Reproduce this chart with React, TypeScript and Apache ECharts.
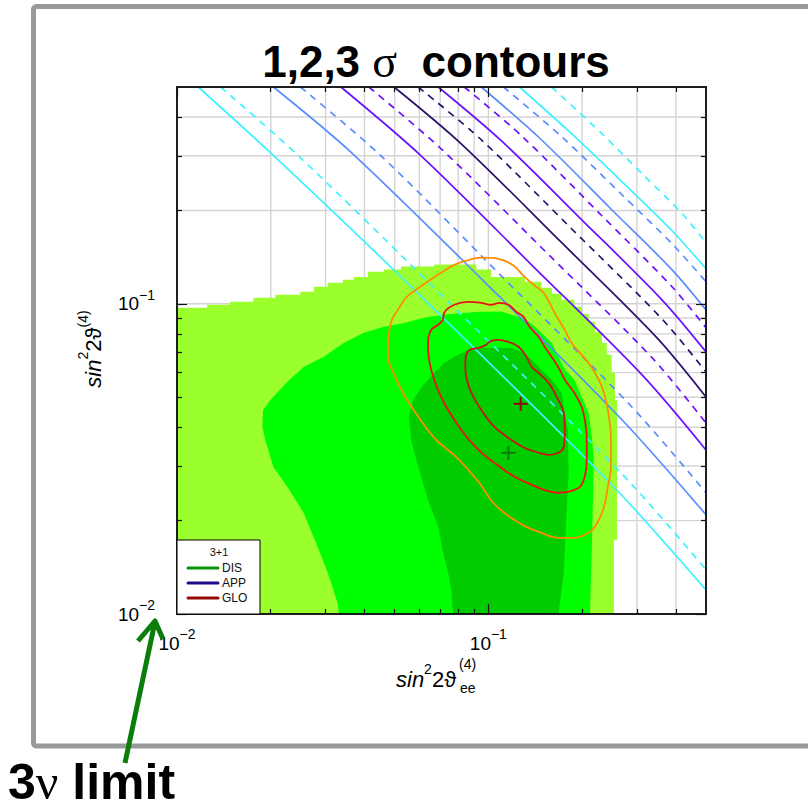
import React, { useEffect, useRef } from 'react';
import * as echarts from 'echarts';

const FONT = '"Liberation Sans", Arial, Helvetica, sans-serif';
const SERIF = '"Liberation Serif", "DejaVu Serif", serif';

// Axis range (both axes: sin²2θ, log scale)
const AXIS_MIN = 0.01;
const AXIS_MAX = 0.5;
const MAJOR_TICKS = [0.01, 0.1];
const MINOR_TICKS = [0.02, 0.03, 0.04, 0.05, 0.06, 0.07, 0.08, 0.09, 0.2, 0.3, 0.4];
const GRID_VALUES = [0.02, 0.03, 0.04, 0.05, 0.06, 0.07, 0.08, 0.09, 0.1, 0.2, 0.3, 0.4];

type Pt = [number, number];

// DIS allowed regions [sin²2θee, sin²2θ(4)] — 3σ region keeps the binned (stepped) outline
const DIS_3SIGMA: Pt[] = [
  [0.01, 0.01], [0.01, 0.0971], [0.0125, 0.0971], [0.0125, 0.0993], [0.0148, 0.0993],
  [0.0148, 0.1015], [0.0176, 0.1015], [0.0176, 0.1046], [0.0207, 0.1046], [0.0207, 0.1069],
  [0.0249, 0.1069], [0.0249, 0.1093], [0.0275, 0.1093], [0.0275, 0.1135], [0.0305, 0.1135],
  [0.0305, 0.117], [0.0341, 0.117], [0.0341, 0.1195], [0.037, 0.1195], [0.037, 0.122],
  [0.041, 0.122], [0.041, 0.1269], [0.0462, 0.1269], [0.0462, 0.129], [0.0524, 0.129],
  [0.0524, 0.132], [0.067, 0.132], [0.067, 0.134], [0.0915, 0.134], [0.0915, 0.129],
  [0.102, 0.129], [0.102, 0.122], [0.131, 0.122], [0.131, 0.1177], [0.148, 0.1177],
  [0.148, 0.1126], [0.16, 0.1126], [0.16, 0.1077], [0.172, 0.1077], [0.172, 0.103],
  [0.189, 0.103], [0.189, 0.0978], [0.1995, 0.0978], [0.1995, 0.0928], [0.21, 0.0928],
  [0.21, 0.0875], [0.22, 0.0875], [0.22, 0.0812], [0.2315, 0.0812], [0.2315, 0.0748],
  [0.24, 0.0748], [0.24, 0.0685], [0.249, 0.0685], [0.249, 0.0599], [0.255, 0.0599],
  [0.255, 0.049], [0.259, 0.049], [0.259, 0.0173], [0.253, 0.0173], [0.253, 0.01],
];
const DIS_2SIGMA: Pt[] = [
  [0.0331, 0.01], [0.0328, 0.01085], [0.0305, 0.01356], [0.0283, 0.01645], [0.0255, 0.0212],
  [0.0226, 0.0257], [0.0204, 0.0298], [0.0192, 0.0364], [0.0188, 0.0401], [0.0189, 0.0455],
  [0.01995, 0.049], [0.0226, 0.056], [0.0255, 0.0626], [0.0296, 0.0675], [0.0343, 0.0748],
  [0.0398, 0.0806], [0.0462, 0.0843], [0.0536, 0.0868], [0.0622, 0.0901], [0.0716, 0.0922],
  [0.0929, 0.0942], [0.11, 0.0942], [0.1186, 0.0922], [0.128, 0.0901], [0.1377, 0.0862],
  [0.148, 0.0806], [0.16, 0.0748], [0.168, 0.0675], [0.176, 0.0613], [0.189, 0.0569],
  [0.1995, 0.0501], [0.21, 0.0445], [0.215, 0.0372], [0.218, 0.0314], [0.215, 0.01645],
  [0.212, 0.01],
];
const DIS_1SIGMA: Pt[] = [
  [0.0771, 0.01], [0.076, 0.01195], [0.0743, 0.01356], [0.0716, 0.01573], [0.069, 0.0191],
  [0.064, 0.0233], [0.0595, 0.0298], [0.0565, 0.0364], [0.0556, 0.0432], [0.0573, 0.049],
  [0.0608, 0.0536], [0.067, 0.0599], [0.0721, 0.0645], [0.0777, 0.0675], [0.0862, 0.071],
  [0.0949, 0.0721], [0.1186, 0.0721], [0.128, 0.07], [0.1377, 0.066], [0.148, 0.0613],
  [0.16, 0.0569], [0.172, 0.0516], [0.176, 0.0445], [0.18, 0.0392], [0.181, 0.0285],
  [0.1785, 0.0217], [0.1746, 0.01356], [0.168, 0.01],
];

// GLO contours
const GLO_3SIGMA: Pt[] = [
  [0.0476, 0.066], [0.0476, 0.0738], [0.0479, 0.0806], [0.049, 0.0888], [0.0512, 0.0956],
  [0.0544, 0.1046], [0.0586, 0.111], [0.0631, 0.117], [0.0705, 0.126], [0.0771, 0.133],
  [0.0849, 0.1377], [0.0949, 0.1408], [0.1077, 0.1397], [0.1204, 0.133], [0.1297, 0.1231],
  [0.1397, 0.1152], [0.1505, 0.1085], [0.1633, 0.0935], [0.176, 0.0824], [0.185, 0.0748],
  [0.1995, 0.0685], [0.215, 0.0622], [0.2315, 0.054], [0.242, 0.0455], [0.2475, 0.0364],
  [0.2475, 0.0298], [0.242, 0.0257], [0.235, 0.0221], [0.2247, 0.0198], [0.212, 0.0184],
  [0.189, 0.0176], [0.168, 0.0176], [0.148, 0.01825], [0.131, 0.0192], [0.116, 0.0207],
  [0.1038, 0.0228], [0.0929, 0.0267], [0.0788, 0.0321], [0.068, 0.0364], [0.0599, 0.0429],
  [0.0536, 0.0509], [0.0494, 0.0603], [0.0476, 0.066],
];
const GLO_2SIGMA: Pt[] = [
  [0.0716, 0.0888], [0.0721, 0.0935], [0.0777, 0.0993], [0.0862, 0.1015], [0.0949, 0.1007],
  [0.102, 0.0993], [0.1085, 0.1007], [0.116, 0.0993], [0.1231, 0.0942], [0.1297, 0.0908],
  [0.1356, 0.0843], [0.145, 0.0783], [0.1516, 0.0727], [0.162, 0.066], [0.1695, 0.0613],
  [0.176, 0.0569], [0.189, 0.0516], [0.1995, 0.0465], [0.204, 0.0423], [0.207, 0.0372],
  [0.207, 0.0314], [0.204, 0.0277], [0.1966, 0.0257], [0.181, 0.0248], [0.168, 0.0246],
  [0.1516, 0.0251], [0.1377, 0.0261], [0.1213, 0.0277], [0.1046, 0.0307], [0.0929, 0.0338],
  [0.0818, 0.0392], [0.0721, 0.0479], [0.067, 0.0569], [0.0645, 0.066], [0.064, 0.0748],
  [0.0655, 0.0824], [0.069, 0.0856], [0.0716, 0.0888],
];
const GLO_1SIGMA: Pt[] = [
  [0.0849, 0.0685], [0.0868, 0.071], [0.0929, 0.0721], [0.0985, 0.0738], [0.1007, 0.0754],
  [0.1061, 0.0765], [0.116, 0.0754], [0.125, 0.0727], [0.1326, 0.0675], [0.1377, 0.0626],
  [0.145, 0.0599], [0.1562, 0.0556], [0.1657, 0.0501], [0.1746, 0.0445], [0.176, 0.0392],
  [0.1746, 0.0346], [0.168, 0.0331], [0.1562, 0.0326], [0.145, 0.0331], [0.131, 0.0343],
  [0.1186, 0.0364], [0.1046, 0.0401], [0.0949, 0.0455], [0.0882, 0.0516], [0.0849, 0.0581],
  [0.0843, 0.0645], [0.0849, 0.0685],
];

// best-fit points
const GLO_BEST: Pt = [0.127, 0.0476];
const DIS_BEST: Pt = [0.116, 0.0331];

// APP bounds, lower-left group then upper-right group (solid / dashed)
const APP_SOLID: Pt[][] = [
  [[0.0117, 0.5], [0.01995, 0.307], [0.0565, 0.1135], [0.249, 0.0261], [0.5, 0.01195]],
  [[0.0204, 0.5], [0.0361, 0.309], [0.0964, 0.1186], [0.2685, 0.0423], [0.5, 0.0209]],
  [[0.0336, 0.5], [0.0608, 0.3], [0.1376, 0.1336], [0.3116, 0.059], [0.5, 0.0338]],
  [[0.0498, 0.5], [0.0818, 0.328], [0.172, 0.1574], [0.348, 0.0777], [0.5, 0.0501]],
  [[0.069, 0.5], [0.11, 0.3356], [0.1995, 0.1866], [0.361, 0.103], [0.5, 0.07]],
  [[0.0949, 0.5], [0.148, 0.338], [0.249, 0.201], [0.389, 0.1287], [0.5, 0.0956]],
  [[0.1259, 0.5], [0.185, 0.3535], [0.2685, 0.2475], [0.389, 0.172], [0.5, 0.1297]],
];
const APP_DASHED: Pt[][] = [
  [[0.0138, 0.5], [0.0249, 0.296], [0.076, 0.0993], [0.2685, 0.0283], [0.5, 0.0139]],
  [[0.0249, 0.5], [0.0452, 0.3], [0.11, 0.1231], [0.289, 0.0465], [0.5, 0.0246]],
  [[0.0413, 0.5], [0.0705, 0.316], [0.1597, 0.1408], [0.3356, 0.067], [0.5, 0.0413]],
  [[0.0595, 0.5], [0.0949, 0.338], [0.185, 0.1746], [0.361, 0.0894], [0.5, 0.0603]],
  [[0.0837, 0.5], [0.1278, 0.348], [0.2315, 0.1923], [0.389, 0.1135], [0.5, 0.0837]],
  [[0.1118, 0.5], [0.172, 0.3457], [0.2685, 0.2247], [0.389, 0.1562], [0.5, 0.1178]],
  [[0.1596, 0.5], [0.2315, 0.3535], [0.3116, 0.2627], [0.4194, 0.1951], [0.5, 0.1574]],
];
const APP_COLORS = ['#3ff2ff', '#5a8dff', '#6a12ff', '#2f0f6c', '#6a12ff', '#5a8dff', '#3ff2ff'];

const LEGEND_ITEMS = ['DIS', 'APP', 'GLO'];
const LEGEND_COLORS = ['#0a900a', '#22088a', '#950808'];

const tickLabelRich = {
  b: { fontSize: 19, lineHeight: 32, fontFamily: FONT, color: '#000' },
  s: { fontSize: 14, lineHeight: 15, fontFamily: FONT, color: '#000', verticalAlign: 'top' },
};
const tickLabelFormatter = (v: number) => `{b|10}{s|\u2212${Math.abs(Math.round(Math.log10(v)))}}`;

const titleRich = {
  i: { fontSize: 22, lineHeight: 34, fontStyle: 'italic', fontFamily: FONT, fill: '#000', color: '#000' },
  n: { fontSize: 22, lineHeight: 34, fontFamily: FONT, fill: '#000', color: '#000' },
  s: { fontSize: 14, lineHeight: 15, fontFamily: FONT, fill: '#000', color: '#000', verticalAlign: 'top' },
};

function makeAxis(kind: 'x' | 'y', position: string, major: boolean, withLabels: boolean) {
  return {
    type: 'log',
    logBase: 10,
    min: AXIS_MIN,
    max: AXIS_MAX,
    position,
    gridIndex: 0,
    z: 10,
    axisLine: { show: true, onZero: false, lineStyle: { color: '#111', width: 1.5 } },
    axisTick: {
      show: true,
      inside: true,
      length: major ? 10 : 5,
      customValues: major ? MAJOR_TICKS : MINOR_TICKS,
      lineStyle: { color: '#111', width: 1.2 },
    },
    axisLabel: withLabels
      ? {
          show: true,
          customValues: MAJOR_TICKS,
          formatter: tickLabelFormatter,
          rich: tickLabelRich,
          margin: kind === 'x' ? 13 : 22,
        }
      : { show: false },
    splitLine: { show: false },
    minorTick: { show: false },
    minorSplitLine: { show: false },
  };
}

function polygonSeries(pts: Pt[], fill: string, z: number) {
  return {
    type: 'custom',
    coordinateSystem: 'cartesian2d',
    xAxisIndex: 0,
    yAxisIndex: 0,
    z,
    silent: true,
    data: pts,
    renderItem: (params: any, api: any) => {
      if (params.dataIndex !== 0) return null;
      return {
        type: 'polygon',
        shape: { points: pts.map((p) => api.coord(p)) },
        style: { fill, stroke: null },
      };
    },
  };
}

function contourSeries(pts: Pt[], color: string) {
  return {
    type: 'line',
    xAxisIndex: 0,
    yAxisIndex: 0,
    data: pts,
    smooth: 0.35,
    symbol: 'none',
    silent: true,
    z: 5,
    lineStyle: { color, width: 1.8 },
  };
}

function crossSeries(p: Pt, color: string) {
  return {
    type: 'custom',
    coordinateSystem: 'cartesian2d',
    xAxisIndex: 0,
    yAxisIndex: 0,
    z: 6,
    silent: true,
    data: [p],
    renderItem: (_params: any, api: any) => {
      const c = api.coord([api.value(0), api.value(1)]);
      const s = 7;
      return {
        type: 'group',
        children: [
          { type: 'line', shape: { x1: c[0] - s, y1: c[1], x2: c[0] + s, y2: c[1] }, style: { stroke: color, lineWidth: 2 } },
          { type: 'line', shape: { x1: c[0], y1: c[1] - s, x2: c[0], y2: c[1] + s }, style: { stroke: color, lineWidth: 2 } },
        ],
      };
    },
  };
}

function gridSeries(vertical: boolean) {
  return {
    type: 'custom',
    coordinateSystem: 'cartesian2d',
    xAxisIndex: 0,
    yAxisIndex: 0,
    z: 1,
    silent: true,
    data: GRID_VALUES.map((v) => (vertical ? [v, 0.1] : [0.1, v])),
    renderItem: (params: any, api: any) => {
      const cs = params.coordSys;
      const c = api.coord([api.value(0), api.value(1)]);
      const shape = vertical
        ? { x1: c[0], y1: cs.y, x2: c[0], y2: cs.y + cs.height }
        : { x1: cs.x, y1: c[1], x2: cs.x + cs.width, y2: c[1] };
      return { type: 'line', shape, style: { stroke: '#d4d4d4', lineWidth: 1.4 } };
    },
  };
}

export default function App() {
  const ref = useRef<HTMLDivElement>(null);

  useEffect(() => {
    if (!ref.current) return;
    const chart = echarts.init(ref.current, null, { renderer: 'svg' });

    const appSeries: any[] = [];
    APP_SOLID.forEach((pts, i) => {
      appSeries.push({
        type: 'line', xAxisIndex: 0, yAxisIndex: 0, data: pts, symbol: 'none', silent: true, z: 4,
        smooth: 0.3,
        lineStyle: { color: APP_COLORS[i], width: 1.7, type: 'solid' },
      });
    });
    APP_DASHED.forEach((pts, i) => {
      appSeries.push({
        type: 'line', xAxisIndex: 0, yAxisIndex: 0, data: pts, symbol: 'none', silent: true, z: 4,
        smooth: 0.3,
        lineStyle: { color: APP_COLORS[i], width: 1.7, type: [7, 6] },
      });
    });

    const legendX = 177;
    const legendY = 540;
    const legendGraphics: any[] = [
      { type: 'rect', shape: { x: legendX, y: legendY, width: 83, height: 74 }, style: { fill: '#fff', stroke: '#000', lineWidth: 1 }, z: 100 },
      { type: 'text', x: 219, y: 552, z: 101, style: { text: '3+1', fontSize: 11, fontFamily: FONT, fill: '#111', align: 'center', verticalAlign: 'middle' } },
    ];
    LEGEND_ITEMS.forEach((name, i) => {
      const y = 568 + i * 15;
      legendGraphics.push({ type: 'line', z: 101, shape: { x1: 188, y1: y, x2: 218, y2: y }, style: { stroke: LEGEND_COLORS[i], lineWidth: 3, lineCap: 'round' } });
      legendGraphics.push({ type: 'text', x: 222, y, z: 101, style: { text: name, fontSize: 12, fontFamily: FONT, fill: '#111', align: 'left', verticalAlign: 'middle' } });
    });

    chart.setOption({
      animation: false,
      backgroundColor: '#fff',
      grid: { left: 177, right: 102, top: 87, bottom: 195, containLabel: false, outerBoundsMode: 'none' },
      xAxis: [
        makeAxis('x', 'bottom', true, true),
        makeAxis('x', 'bottom', false, false),
        makeAxis('x', 'top', true, false),
        makeAxis('x', 'top', false, false),
      ],
      yAxis: [
        makeAxis('y', 'left', true, true),
        makeAxis('y', 'left', false, false),
        makeAxis('y', 'right', true, false),
        makeAxis('y', 'right', false, false),
      ],
      series: [
        gridSeries(true),
        gridSeries(false),
        polygonSeries(DIS_3SIGMA, '#9bff2e', 2),
        polygonSeries(DIS_2SIGMA, '#00ff00', 2),
        polygonSeries(DIS_1SIGMA, '#00cc00', 2),
        ...appSeries,
        contourSeries(GLO_3SIGMA, '#ff8c00'),
        contourSeries(GLO_2SIGMA, '#ee1111'),
        contourSeries(GLO_1SIGMA, '#c81414'),
        crossSeries(GLO_BEST, '#8a0a0a'),
        crossSeries(DIS_BEST, '#0b7a0b'),
      ],
      graphic: [
        // outer frame
        { type: 'rect', z: 0, shape: { x: 33.5, y: 6.5, width: 900, height: 739.5, r: 3 }, style: { fill: 'none', stroke: '#999', lineWidth: 5 } },
        // title
        {
          type: 'text', x: 436, y: 61, z: 20,
          style: {
            text: '{a|1,2,3 }{g|\u03c3}{a|  contours}',
            align: 'center', verticalAlign: 'middle',
            rich: {
              a: { fontSize: 44, fontWeight: 'bold', fontFamily: FONT, fill: '#000', color: '#000' },
              g: { fontSize: 46, fontFamily: SERIF, fill: '#000', color: '#000' },
            },
          },
        },
        // y axis title
        {
          type: 'text', x: 93, y: 349, rotation: Math.PI / 2, z: 20,
          style: { text: '{i|sin}{s|2}{n|2\u03d1}{s|(4)}', align: 'center', verticalAlign: 'middle', rich: titleRich },
        },
        // x axis title
        {
          type: 'text', x: 396, y: 679, z: 20,
          style: { text: '{i|sin}{s|2}{n|2\u03d1}', align: 'left', verticalAlign: 'middle', rich: titleRich },
        },
        { type: 'text', x: 459, y: 664, z: 20, style: { text: '(4)', fontSize: 14, fontFamily: FONT, fill: '#000', align: 'left', verticalAlign: 'middle' } },
        { type: 'text', x: 460, y: 688, z: 20, style: { text: 'ee', fontSize: 14, fontFamily: FONT, fill: '#000', align: 'left', verticalAlign: 'middle' } },
        // 3ν limit annotation
        {
          type: 'text', x: 8, y: 782, z: 20,
          style: {
            text: '{a|3}{g|\u03bd}{a| limit}',
            align: 'left', verticalAlign: 'middle',
            rich: {
              a: { fontSize: 50, lineHeight: 46, fontWeight: 'bold', fontFamily: FONT, fill: '#000', color: '#000' },
              g: { fontSize: 50, lineHeight: 46, fontFamily: SERIF, fill: '#000', color: '#000' },
            },
          },
        },
        { type: 'line', z: 20, shape: { x1: 125, y1: 763, x2: 154.5, y2: 624 }, style: { stroke: '#0a7d0a', lineWidth: 5 } },
        { type: 'polyline', z: 20, shape: { points: [[138, 641], [155, 621], [163, 639]] }, style: { stroke: '#0a7d0a', lineWidth: 5, fill: 'none', lineJoin: 'round' } },
        ...legendGraphics,
      ],
    });

    return () => chart.dispose();
  }, []);

  return <div ref={ref} style={{ position: 'absolute', left: 0, top: 0, width: 808, height: 809 }} />;
}
